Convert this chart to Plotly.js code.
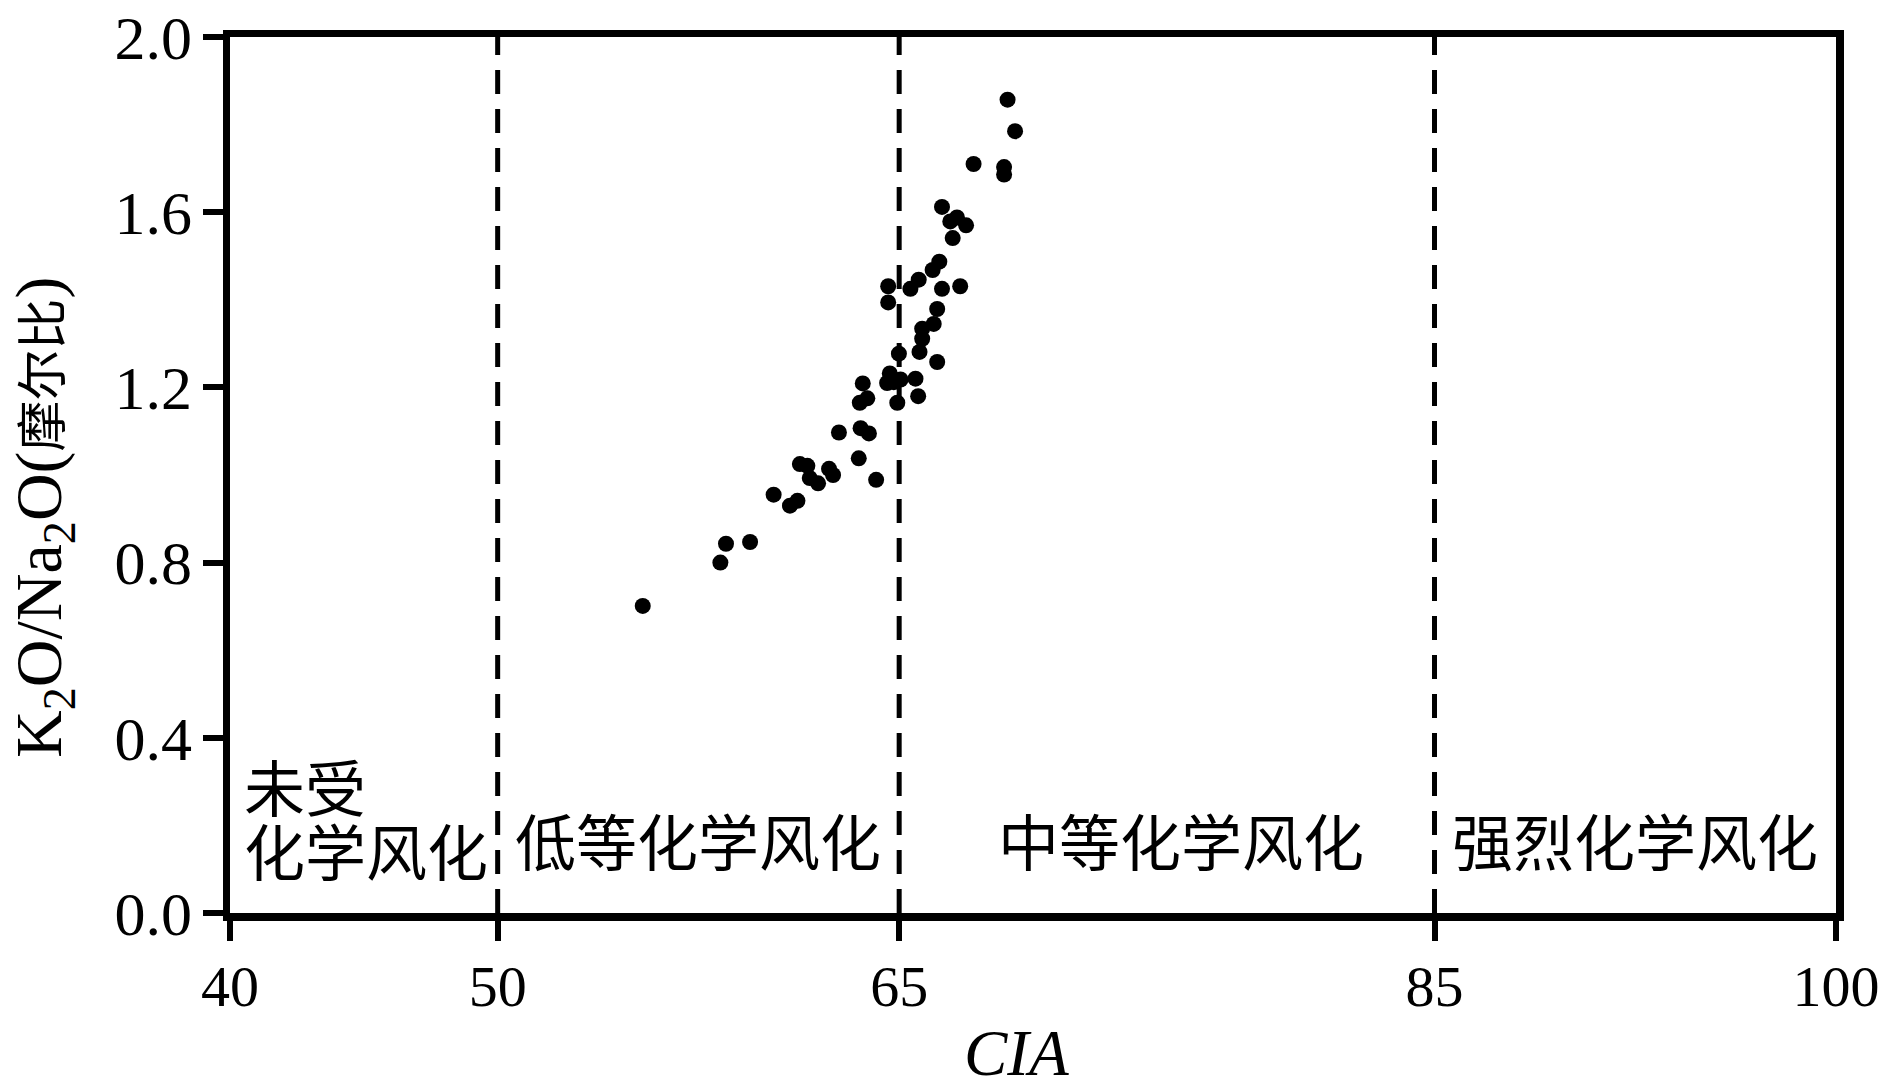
<!DOCTYPE html>
<html>
<head>
<meta charset="utf-8">
<script src="https://cdn.plot.ly/plotly-3.0.1.min.js"></script>
<style>html,body{margin:0;padding:0;background:#fff;}#chart{width:1884px;height:1092px;}</style>
</head>
<body>
<div id="chart"></div>
<script>
// CIA values (x)
const cia = [69.05, 69.33, 67.78, 68.92, 68.92, 66.60, 66.91, 67.16, 67.50, 67.00,
             66.50, 66.25, 64.59, 65.73, 65.42, 66.60, 67.28, 64.59, 66.42, 66.29,
             65.86, 65.86, 64.99, 65.76, 66.42, 64.65, 65.05, 64.55, 64.80, 65.61,
             63.64, 63.81, 63.53, 64.93, 65.71, 62.75, 63.56, 63.87, 63.49, 64.14,
             61.29, 61.57, 61.66, 61.97, 62.38, 62.53, 60.31, 61.20, 60.92, 58.53,
             59.43, 58.32, 55.42];
// K2O/Na2O molar ratio (y)
const ratio = [1.857, 1.785, 1.710, 1.703, 1.686, 1.612, 1.579, 1.588, 1.570, 1.541,
               1.487, 1.468, 1.431, 1.446, 1.425, 1.425, 1.431, 1.394, 1.379, 1.345,
               1.334, 1.311, 1.277, 1.281, 1.258, 1.232, 1.218, 1.210, 1.212, 1.220,
               1.209, 1.175, 1.165, 1.165, 1.180, 1.097, 1.107, 1.095, 1.038, 0.989,
               1.025, 1.021, 0.993, 0.981, 1.014, 1.000, 0.955, 0.941, 0.930, 0.843,
               0.847, 0.800, 0.701];
// Zone boundaries and labels
const zoneEdges = [40, 50, 65, 85, 100];
const boundaries = [50, 65, 85];
const zoneLabels = ["未受<br>化学风化", "低等化学风化", "中等化学风化", "强烈化学风化"];
const xTicks = [40, 50, 65, 85, 100];
const yTicks = [0.0, 0.4, 0.8, 1.2, 1.6, 2.0];
const xTitle = '<i>CIA</i>';
const yTitle = 'K<sub>2</sub>O/Na<sub>2</sub>O(<span style="font-size:51px">摩尔比</span>)';

const serif = "Liberation Serif, Times New Roman, Noto Sans CJK SC, serif";
const cjk = "Noto Sans CJK SC, sans-serif";

const trace = {
  x: cia, y: ratio, type: 'scatter', mode: 'markers',
  marker: {color: '#000', size: 16, line: {width: 0}},
  xaxis: 'x', yaxis: 'y', hoverinfo: 'x+y'
};

const shapes = boundaries.map(b => ({
  type: 'line', xref: 'x', yref: 'paper', x0: b, x1: b, y0: 0, y1: 1,
  line: {color: '#000', width: 5, dash: '24px,15px'}, layer: 'below'
}));

const annotations = [];
// first zone: two lines, left aligned
const firstLines = zoneLabels[0].split('<br>');
annotations.push({x: zoneEdges[0], y: 0.292, xref: 'x', yref: 'y', text: firstLines[0],
  showarrow: false, xanchor: 'left', yanchor: 'middle', xshift: 12,
  font: {family: cjk, size: 61, color: '#000'}});
annotations.push({x: zoneEdges[0], y: 0.145, xref: 'x', yref: 'y', text: firstLines[1],
  showarrow: false, xanchor: 'left', yanchor: 'middle', xshift: 12,
  font: {family: cjk, size: 61, color: '#000'}});
const labelShift = [0, 0, 14, 0];
for (let i = 1; i < zoneLabels.length; i++) {
  annotations.push({
    x: (zoneEdges[i] + zoneEdges[i + 1]) / 2, y: 0.168, xref: 'x', yref: 'y',
    text: zoneLabels[i], showarrow: false, xanchor: 'center', yanchor: 'middle',
    xshift: labelShift[i],
    font: {family: cjk, size: 61, color: '#000'}
  });
}
// axis titles placed as annotations to match reference offsets
annotations.push({
  x: -0.1165, y: 0.452, xref: 'paper', yref: 'paper', textangle: -90,
  text: yTitle, showarrow: false, xanchor: 'center', yanchor: 'middle',
  font: {family: serif, size: 66, color: '#000'}
});
annotations.push({
  x: 0.490, y: -0.160, xref: 'paper', yref: 'paper',
  text: xTitle, showarrow: false, xanchor: 'center', yanchor: 'middle',
  font: {family: serif, size: 65, color: '#000'}
});

const layout = {
  width: 1884, height: 1092,
  margin: {l: 230, r: 48, t: 37, b: 179},
  paper_bgcolor: '#fff', plot_bgcolor: '#fff',
  showlegend: false,
  font: {family: serif, color: '#000'},
  xaxis: {
    range: [40, 100], tickmode: 'array', tickvals: xTicks, ticktext: xTicks.map(String),
    ticks: 'outside', ticklen: 20, tickwidth: 6, tickcolor: '#000',
    showline: true, linewidth: 7.5, linecolor: '#000', mirror: true,
    showgrid: false, zeroline: false,
    tickfont: {family: serif, size: 58, color: '#000'},
    ticklabelstandoff: -4
  },
  xaxis2: {
    overlaying: 'x', matches: 'x', anchor: 'y', side: 'bottom', range: [40, 100],
    tickmode: 'array', tickvals: xTicks, showticklabels: false,
    ticks: 'inside', ticklen: 20, tickwidth: 6, tickcolor: '#000',
    showline: false, showgrid: false, zeroline: false
  },
  yaxis: {
    range: [0, 2], tickmode: 'array', tickvals: yTicks, ticktext: yTicks.map(v => v.toFixed(1)),
    ticks: 'outside', ticklen: 20, tickwidth: 6, tickcolor: '#000',
    showline: true, linewidth: 7.5, linecolor: '#000', mirror: true,
    showgrid: false, zeroline: false,
    tickfont: {family: serif, size: 62, color: '#000'},
    ticklabelstandoff: -2
  },
  shapes: shapes,
  annotations: annotations
};

Plotly.newPlot('chart', [trace], layout, {displayModeBar: false, staticPlot: true});
</script>
</body>
</html>
